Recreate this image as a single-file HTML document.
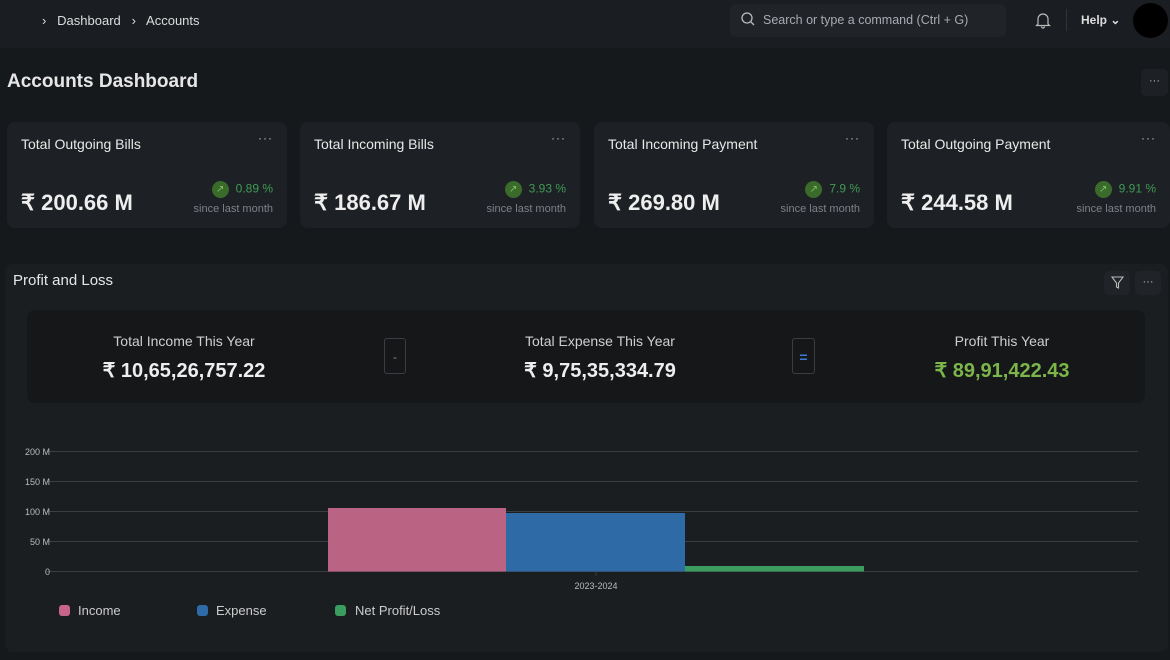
<!DOCTYPE html>
<html><head><meta charset="utf-8"><style>
*{box-sizing:border-box;margin:0;padding:0}
body{width:1170px;height:660px;background:#16191c;font-family:"Liberation Sans",sans-serif;color:#e6e6e6;position:relative;overflow:hidden}
.abs{position:absolute}
.nav{left:0;top:0;width:1170px;height:48px;background:#1a1d21}
.card{background:#1d2024;border-radius:8px;height:106px;top:122px;width:280px}
.card .t{position:absolute;left:14px;top:14px;font-size:14px;color:#e8e8e8}
.card .d{position:absolute;right:14px;top:9px;font-size:12px;color:#bbb;letter-spacing:1px}
.card .v{position:absolute;left:14px;top:68px;font-size:22px;font-weight:bold;color:#eee}
.card .p{position:absolute;right:14px;top:59px;font-size:12px;color:#3f9a55}
.card .g{display:inline-block;width:17px;height:17px;border-radius:50%;background:#3b6b2a;vertical-align:middle;margin-right:7px;color:#7fbf6a;font-size:10px;text-align:center;line-height:17px}
.card .s{position:absolute;right:14px;top:81px;font-size:11px;color:#7d8288}
.lbl{font-size:14px;color:#cfcfcf;text-align:center}
.big{font-size:20px;font-weight:bold;text-align:center;color:#eee}
</style></head><body>
<div class="abs nav"></div>
<div class="abs" style="left:42px;top:13px;font-size:13px;color:#ddd">›&nbsp;&nbsp; Dashboard &nbsp;&nbsp;›&nbsp;&nbsp; Accounts</div>
<div class="abs" style="left:730px;top:4px;width:276px;height:33px;background:#202328;border-radius:6px"></div>
<svg class="abs" style="left:741px;top:12px" width="14" height="14"><circle cx="6" cy="6" r="5" stroke="#bbb" fill="none" stroke-width="1.3"/><line x1="10" y1="10" x2="13" y2="13" stroke="#bbb" stroke-width="1.3"/></svg>
<div class="abs" style="left:763px;top:13px;font-size:12.5px;color:#a8acb1">Search or type a command (Ctrl + G)</div>
<svg class="abs" style="left:1035px;top:11px" width="16" height="18"><path d="M3 13 V8 a5 5 0 0 1 10 0 V13 L14.5 14.5 H1.5Z M6.5 15.5 a1.5 1.5 0 0 0 3 0" stroke="#bbb" fill="none" stroke-width="1.2"/></svg>
<div class="abs" style="left:1066px;top:9px;width:1px;height:22px;background:#333"></div>
<div class="abs" style="left:1081px;top:13px;font-size:12px;font-weight:bold;color:#ddd">Help ⌄</div>
<div class="abs" style="left:1133px;top:3px;width:35px;height:35px;border-radius:50%;background:#000"></div>

<div class="abs" style="left:7px;top:71px;font-size:19px;font-weight:bold;color:#e6e6e6">Accounts Dashboard</div>
<div class="abs" style="left:1141px;top:69px;width:27px;height:27px;background:#1d2024;border-radius:5px;font-size:11px;color:#bbb;text-align:center;line-height:25px">···</div>

<div class="abs card" style="left:7px"><div class="t">Total Outgoing Bills</div><div class="d">···</div><div class="v">₹ 200.66 M</div><div class="p"><span class="g">↗</span>0.89 %</div><div class="s">since last month</div></div>
<div class="abs card" style="left:300px"><div class="t">Total Incoming Bills</div><div class="d">···</div><div class="v">₹ 186.67 M</div><div class="p"><span class="g">↗</span>3.93 %</div><div class="s">since last month</div></div>
<div class="abs card" style="left:594px"><div class="t">Total Incoming Payment</div><div class="d">···</div><div class="v">₹ 269.80 M</div><div class="p"><span class="g">↗</span>7.9 %</div><div class="s">since last month</div></div>
<div class="abs card" style="left:887px;width:283px"><div class="t">Total Outgoing Payment</div><div class="d">···</div><div class="v">₹ 244.58 M</div><div class="p"><span class="g">↗</span>9.91 %</div><div class="s">since last month</div></div>

<div class="abs" style="left:5px;top:264px;width:1163px;height:388px;background:#1b1e21;border-radius:8px"></div>
<div class="abs" style="left:13px;top:272px;font-size:15px;color:#e6e6e6">Profit and Loss</div>
<div class="abs" style="left:1104px;top:271px;width:26px;height:24px;background:#202327;border-radius:5px"></div>
<svg class="abs" style="left:1111px;top:276px" width="13" height="13"><path d="M1 1 H12 L7.5 7 V12 L5.5 11 V7Z" stroke="#bbb" fill="none" stroke-width="1.1"/></svg>
<div class="abs" style="left:1135px;top:271px;width:26px;height:24px;background:#202327;border-radius:5px;font-size:11px;color:#bbb;text-align:center;line-height:22px">···</div>

<div class="abs" style="left:27px;top:310px;width:1118px;height:93px;background:#151719;border-radius:8px"></div>
<div class="abs lbl" style="left:64px;top:333px;width:240px">Total Income This Year</div>
<div class="abs big" style="left:64px;top:358px;width:240px">₹ 10,65,26,757.22</div>
<div class="abs" style="left:384px;top:338px;width:22px;height:36px;border:1px solid #3a3d42;border-radius:3px;color:#888;text-align:center;line-height:36px;font-size:12px">-</div>
<div class="abs lbl" style="left:480px;top:333px;width:240px">Total Expense This Year</div>
<div class="abs big" style="left:480px;top:358px;width:240px">₹ 9,75,35,334.79</div>
<div class="abs" style="left:792px;top:338px;width:23px;height:36px;border:1px solid #3a3d42;border-radius:3px;color:#3a7bd5;text-align:center;line-height:36px;font-size:14px;font-weight:bold">=</div>
<div class="abs lbl" style="left:882px;top:333px;width:240px">Profit This Year</div>
<div class="abs big" style="left:882px;top:358px;width:240px;color:#7cb54a">₹ 89,91,422.43</div>

<svg class="abs" style="left:0;top:440px" width="1170" height="160" font-family="Liberation Sans" font-size="9" fill="#bbb">
<g stroke="#3a3e43" stroke-width="1">
<line x1="47" y1="11.5" x2="1138" y2="11.5"/><line x1="47" y1="41.5" x2="1138" y2="41.5"/><line x1="47" y1="71.5" x2="1138" y2="71.5"/><line x1="47" y1="101.5" x2="1138" y2="101.5"/><line x1="47" y1="131.5" x2="1138" y2="131.5"/>
<line x1="596" y1="131" x2="596" y2="136"/></g>
<g text-anchor="end"><text x="50" y="15">200 M</text><text x="50" y="45">150 M</text><text x="50" y="75">100 M</text><text x="50" y="105">50 M</text><text x="50" y="135">0</text></g>
<rect x="328" y="68" width="178" height="63.5" fill="#bb6382"/>
<rect x="506" y="73" width="179" height="58.5" fill="#2d6aa6"/>
<rect x="685" y="126" width="179" height="5.5" fill="#3a9c5e"/>
<text x="596" y="149" text-anchor="middle">2023-2024</text>
</svg>
<div class="abs" style="left:59px;top:605px;width:11px;height:11px;border-radius:3px;background:#c76588"></div>
<div class="abs" style="left:78px;top:603px;font-size:13px;color:#ccc">Income</div>
<div class="abs" style="left:197px;top:605px;width:11px;height:11px;border-radius:3px;background:#2d6aa6"></div>
<div class="abs" style="left:216px;top:603px;font-size:13px;color:#ccc">Expense</div>
<div class="abs" style="left:335px;top:605px;width:11px;height:11px;border-radius:3px;background:#3a9c5e"></div>
<div class="abs" style="left:355px;top:603px;font-size:13px;color:#ccc">Net Profit/Loss</div>
</body></html>
